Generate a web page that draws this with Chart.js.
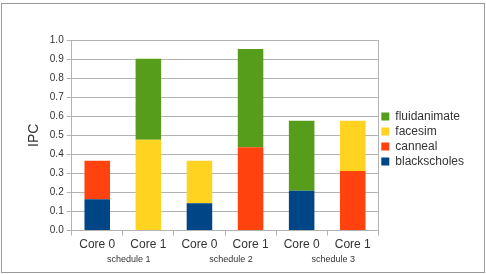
<!DOCTYPE html>
<html>
<head>
<meta charset="utf-8">
<script src="https://cdn.jsdelivr.net/npm/chart.js@4"></script>
<style>
  body { margin: 0; background: #fff; }
  .frame {
    position: absolute; left: 1px; top: 3px;
    width: 482px; height: 268px;
    border: 1px solid #9a9a9a;
  }
</style>
</head>
<body>
<div class="frame">
  <canvas id="ipcChart"></canvas>
</div>
<script>
const cores = ["Core 0", "Core 1", "Core 0", "Core 1", "Core 0", "Core 1"];
const schedules = ["schedule 1", "schedule 2", "schedule 3"];
const blackscholes = [0.165, 0, 0.144, 0, 0.209, 0];
const canneal = [0.202, 0, 0, 0.437, 0, 0.313];
const facesim = [0, 0.477, 0.223, 0, 0, 0.263];
const fluidanimate = [0, 0.425, 0, 0.516, 0.367, 0];

// right edge of the plot box + schedule group labels under each core pair
const plotExtras = {
  id: "plotExtras",
  afterLayout(chart) {
    // legend sits a bit above the vertical centre in the original
    chart.legend.top -= 8;
    chart.legend.bottom -= 8;
  },
  afterDraw(chart) {
    const a = chart.chartArea;
    const c = chart.ctx;
    const x = chart.scales.x;
    c.save();
    c.strokeStyle = "#b3b3b3";
    c.lineWidth = 1;
    c.beginPath();
    c.moveTo(Math.round(a.right) + 0.5, a.top);
    c.lineTo(Math.round(a.right) + 0.5, a.bottom);
    c.stroke();

    c.fillStyle = "#333";
    c.font = "9px 'Liberation Sans'";
    c.textAlign = "center";
    c.textBaseline = "middle";
    schedules.forEach((s, i) => {
      const mid = (x.getPixelForValue(i * 2) + x.getPixelForValue(i * 2 + 1)) / 2;
      c.fillText(s, mid + 6, a.bottom + 29);
    });
    c.restore();
  }
};

const ctx = document.getElementById("ipcChart");
new Chart(ctx, {
  type: "bar",
  data: {
    labels: cores,
    datasets: [
      { label: "blackscholes", data: blackscholes, backgroundColor: "#004586" },
      { label: "canneal", data: canneal, backgroundColor: "#ff420e" },
      { label: "facesim", data: facesim, backgroundColor: "#ffd320" },
      { label: "fluidanimate", data: fluidanimate, backgroundColor: "#579d1c" }
    ]
  },
  options: {
    responsive: true,
    maintainAspectRatio: false,
    animation: false,
    datasets: { bar: { categoryPercentage: 1, barPercentage: 0.5 } },
    layout: { padding: { top: 36, right: 10, left: 20, bottom: 18 } },
    plugins: {
      legend: {
        position: "right",
        reverse: true,
        labels: {
          boxWidth: 8, boxHeight: 8, padding: 3,
          color: "#333", font: { family: "Liberation Sans", size: 12 }
        }
      },
      tooltip: { enabled: false }
    },
    scales: {
      x: {
        stacked: true,
        grid: { display: true, drawOnChartArea: false, tickLength: 5, color: "#b3b3b3" },
        border: { color: "#b3b3b3" },
        ticks: { color: "#333", font: { family: "Liberation Sans", size: 12 }, padding: 2 }
      },
      y: {
        stacked: true,
        min: 0, max: 1,
        ticks: {
          stepSize: 0.1, color: "#333", padding: 3,
          font: { family: "Liberation Sans", size: 10 },
          callback: v => v.toFixed(1)
        },
        grid: { color: "#b3b3b3", tickLength: 5 },
        border: { color: "#b3b3b3" },
        title: {
          display: true, text: "IPC", color: "#333",
          padding: 4,
          font: { family: "Liberation Sans", size: 14 }
        }
      }
    }
  },
  plugins: [plotExtras]
});
</script>
</body>
</html>
